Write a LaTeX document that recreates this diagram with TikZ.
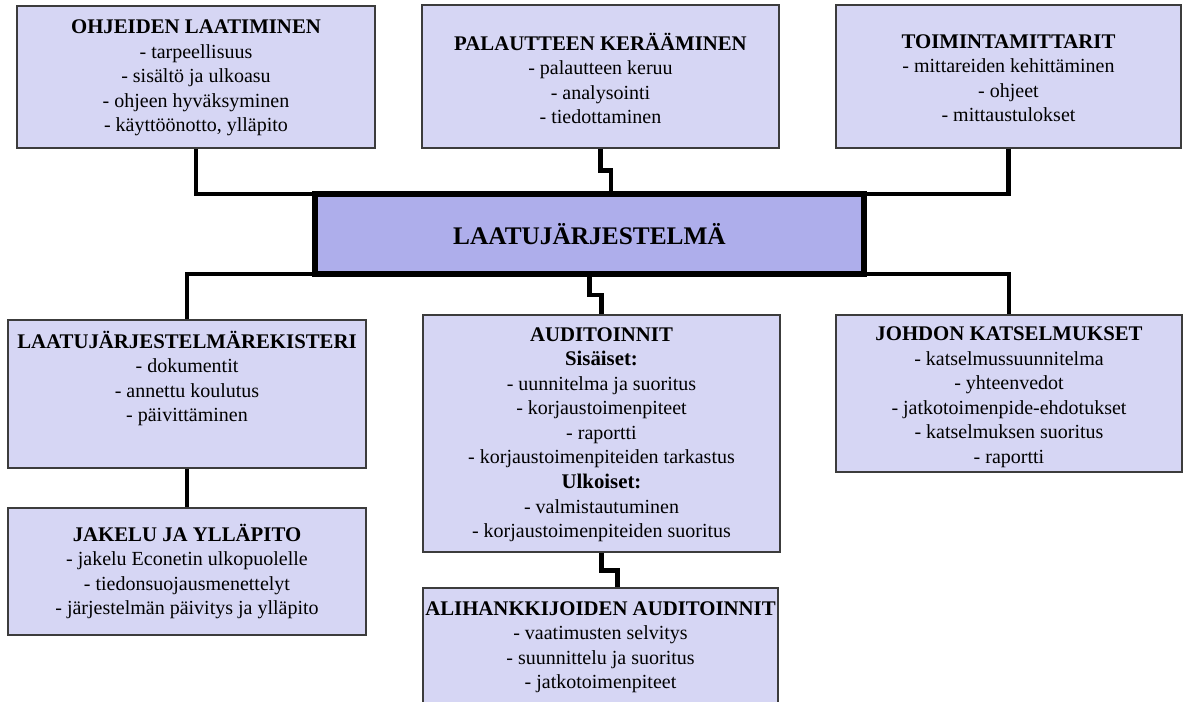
\documentclass[tikz,border=0pt]{standalone}
\usepackage{fontspec}
\setmainfont{Liberation Serif}
\usetikzlibrary{calc}
\definecolor{vaalea}{RGB}{214,214,244}
\definecolor{tumma}{RGB}{174,174,235}
\definecolor{reuna}{RGB}{60,60,60}
\newcommand{\otsikko}[1]{{\fontsize{15.6}{18.4}\selectfont\bfseries #1}}

\begin{document}
\begin{tikzpicture}[x=0.75pt,y=-0.75pt,
  laatikko/.style={draw=reuna,fill=vaalea,line width=1.1pt},
  koko/.style 2 args={minimum width=#1*0.75pt,minimum height=#2*0.75pt},
  teksti/.style={align=center,inner sep=0pt,anchor=north,font=\fontsize{15}{18.4}\selectfont},
  yhd/.style={line width=3.4pt}]
\useasboundingbox (0,0) rectangle (1185,701);

% laatikot
\node[laatikko,koko={358}{142}] (ohje) at (196,77) {};
\node[laatikko,koko={357}{143}] (palaute) at (600.5,76.5) {};
\node[laatikko,koko={345}{143}] (mittarit) at (1008.5,76.5) {};
\node[draw=black,line width=4.5pt,outer sep=0pt,fill=tumma,koko={549}{80},font=\fontsize{19}{22}\selectfont\bfseries] (keskus) at (589.5,234) {LAATUJÄRJESTELMÄ};
\node[laatikko,koko={358}{148}] (rekisteri) at (187,394) {};
\node[laatikko,koko={357}{237}] (audit) at (601.5,433.5) {};
\node[laatikko,koko={346}{157}] (johdon) at (1009,393.5) {};
\node[laatikko,koko={358}{127}] (jakelu) at (187,571.5) {};
\node[laatikko,koko={355}{117}] (ali) at (600.5,646.5) {};

% tekstit
\node[teksti] (ohjeT) at ($(ohje.north)+(0,14.5)$) {\otsikko{OHJEIDEN LAATIMINEN}\\- tarpeellisuus\\- sisältö ja ulkoasu\\- ohjeen hyväksyminen\\- käyttöönotto, ylläpito};
\node[teksti] (palauteT) at ($(palaute.north)+(0,28.5)$) {\otsikko{PALAUTTEEN KERÄÄMINEN}\\- palautteen keruu\\- analysointi\\- tiedottaminen};
\node[teksti] (mittaritT) at ($(mittarit.north)+(0,30)$) {\otsikko{TOIMINTAMITTARIT}\\- mittareiden kehittäminen\\- ohjeet\\- mittaustulokset};
\node[teksti] (rekisteriT) at ($(rekisteri.north)+(0,11.5)$) {\otsikko{LAATUJÄRJESTELMÄREKISTERI}\\- dokumentit\\- annettu koulutus\\- päivittäminen};
\node[teksti] (auditT) at ($(audit.north)+(0,13)$) {\otsikko{AUDITOINNIT}\\\otsikko{Sisäiset:}\\- uunnitelma ja suoritus\\- korjaustoimenpiteet\\- raportti\\- korjaustoimenpiteiden tarkastus\\\otsikko{Ulkoiset:}\\- valmistautuminen\\- korjaustoimenpiteiden suoritus};
\node[teksti] (johdonT) at ($(johdon.north)+(0,12.5)$) {\otsikko{JOHDON KATSELMUKSET}\\- katselmussuunnitelma\\- yhteenvedot\\- jatkotoimenpide-ehdotukset\\- katselmuksen suoritus\\- raportti};
\node[teksti] (jakeluT) at ($(jakelu.north)+(0,16.5)$) {\otsikko{JAKELU JA YLLÄPITO}\\- jakelu Econetin ulkopuolelle\\- tiedonsuojausmenettelyt\\- järjestelmän päivitys ja ylläpito};
\node[teksti] (aliT) at ($(ali.north)+(0,14)$) {\otsikko{ALIHANKKIJOIDEN AUDITOINNIT}\\- vaatimusten selvitys\\- suunnittelu ja suoritus\\- jatkotoimenpiteet};

% yhteydet
\draw[yhd] (ohje.south) |- (keskus.north west);
\draw[yhd] (palaute.south) -- ++(0,22) -| ($(keskus.north)+(21.5,0)$);
\draw[yhd] (mittarit.south) |- (keskus.north east);
\draw[yhd] (keskus.south west) -| (rekisteri.north);
\draw[yhd] (keskus.south) -- ++(0,21) -| (audit.north);
\draw[yhd] (keskus.south east) -| (johdon.north);
\draw[yhd] (rekisteri.south) -- (jakelu.north);
\draw[yhd] (audit.south) -- ++(0,18) -| ($(ali.north)+(17,0)$);
\end{tikzpicture}
\end{document}
